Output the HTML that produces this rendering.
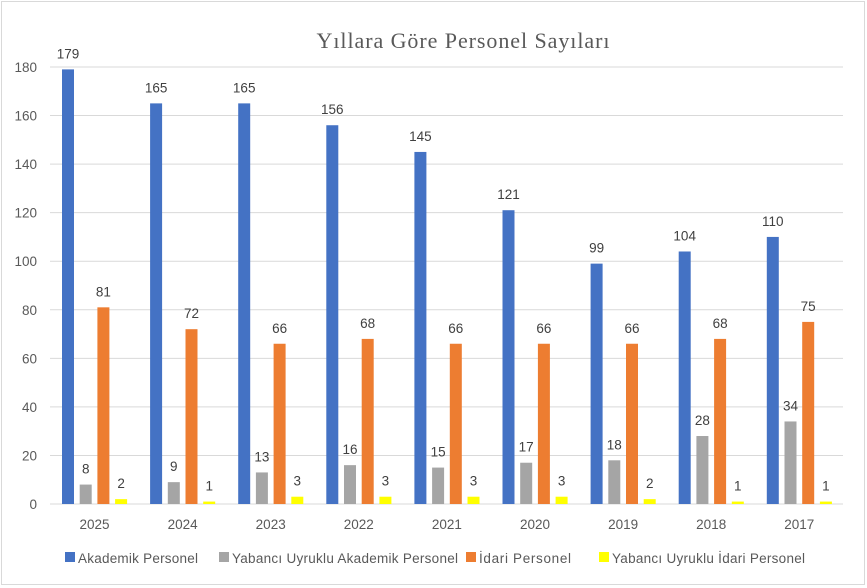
<!DOCTYPE html>
<html><head><meta charset="utf-8"><style>
html,body{margin:0;padding:0;background:#fff}
svg{display:block;font-family:"Liberation Sans",Arial,sans-serif}
</style></head><body>
<svg id="c" width="867" height="588" xmlns="http://www.w3.org/2000/svg">
<rect x="1.5" y="1.5" width="863" height="583" fill="#fff" stroke="#d9d9d9"/>
<text x="463" y="48" text-anchor="middle" font-family="Liberation Serif,serif" font-size="22" fill="#595959" textLength="293">Yıllara Göre Personel Sayıları</text>
<g id="g"></g>
<g font-size="13.5" fill="#595959">
<rect x="65" y="552" width="10" height="10" fill="#4472c4"/><text x="78" y="563" textLength="120">Akademik Personel</text>
<rect x="219" y="552" width="10" height="10" fill="#a5a5a5"/><text x="232" y="563" textLength="226">Yabancı Uyruklu Akademik Personel</text>
<rect x="466" y="552" width="10" height="10" fill="#ed7d31"/><text x="479" y="563" textLength="92">İdari Personel</text>
<rect x="599" y="552" width="10" height="10" fill="#ffff00"/><text x="612" y="563" textLength="193">Yabancı Uyruklu İdari Personel</text>
</g>
</svg>
<script>
var g=document.getElementById('g'),h='',base=504,s=2.428;
for(var v=0;v<=180;v+=20){var y=base-v*s;
 if(v>0)h+='<line x1="50" x2="843" y1="'+y+'" y2="'+y+'" stroke="#d9d9d9"/>';
 h+='<text x="37" y="'+(y+5)+'" text-anchor="end" font-size="13.5" fill="#595959">'+v+'</text>';}
h+='<line x1="50" x2="843" y1="504" y2="504" stroke="#d9d9d9"/>';
var yrs=[2025,2024,2023,2022,2021,2020,2019,2018,2017];
var D=[[179,165,165,156,145,121,99,104,110],[8,9,13,16,15,17,18,28,34],[81,72,66,68,66,66,66,68,75],[2,1,3,3,3,3,2,1,1]];
var C=['#4472c4','#a5a5a5','#ed7d31','#ffff00'];
for(var i=0;i<9;i++){var x0=62+88.1*i;
 h+='<text x="'+(x0+32.5)+'" y="529" text-anchor="middle" font-size="13.5" fill="#595959">'+yrs[i]+'</text>';
 for(var k=0;k<4;k++){var x=x0+17.7*k,hh=D[k][i]*s;
  h+='<rect x="'+x+'" y="'+(base-hh)+'" width="12" height="'+hh+'" fill="'+C[k]+'"/>';
  h+='<text x="'+(x+6)+'" y="'+(base-hh-11)+'" text-anchor="middle" font-size="13.5" fill="#404040">'+D[k][i]+'</text>';}}
g.innerHTML=h;
</script>
</body></html>
